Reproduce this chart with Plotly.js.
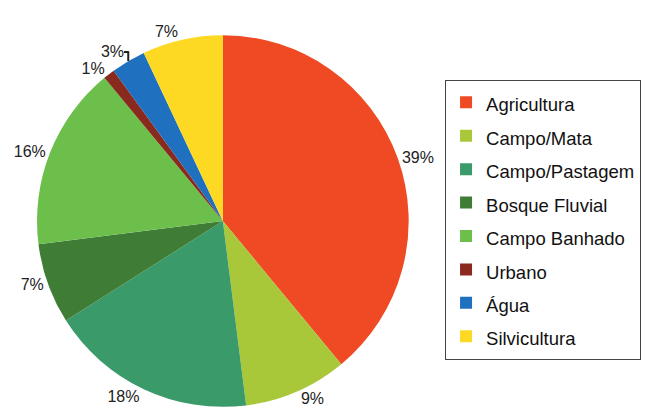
<!DOCTYPE html>
<html>
<head>
<meta charset="utf-8">
<script src="https://cdn.plot.ly/plotly-3.0.1.min.js"></script>
<style>html,body{margin:0;padding:0;background:#fff;}#chart{width:645px;height:419px;}</style>
</head>
<body>
<div id="chart"></div>
<script>
const categories = ["Agricultura","Campo/Mata","Campo/Pastagem","Bosque Fluvial","Campo Banhado","Urbano","Água","Silvicultura"];
const values = [39, 9, 18, 7, 16, 1, 3, 7];
const colors = ["#EF4A24","#A8C83A","#3A9A6A","#3F7D36","#6CBF4B","#8A2A1E","#1F70BF","#FDD924"];

const legendLabels = categories.map(c => '<span style="font-size:18.5px">' + c + '</span>');

const trace = {
  type: "pie",
  labels: legendLabels,
  values: values,
  sort: false,
  direction: "clockwise",
  rotation: 0,
  marker: {colors: colors, line: {width: 0}},
  texttemplate: "%{value}%",
  textposition: "outside",
  textfont: {family: "Liberation Sans, Arial, sans-serif", size: 16, color: "#222"},
  automargin: false,
  domain: {x: [0.057, 0.634], y: [0.029, 0.916]},
  hoverinfo: "label+percent"
};

const layout = {
  width: 645, height: 419,
  margin: {l: 0, r: 0, t: 0, b: 0},
  paper_bgcolor: "#fff",
  showlegend: true,
  legend: {
    x: 0.690, y: 0.81, xanchor: "left", yanchor: "top",
    bordercolor: "#444", borderwidth: 1,
    font: {family: "Liberation Sans, Arial, sans-serif", size: 23.4, color: "#111"},
    itemwidth: 30
  }
};
Plotly.newPlot("chart", [trace], layout, {displayModeBar: false, staticPlot: true});
</script>
</body>
</html>
